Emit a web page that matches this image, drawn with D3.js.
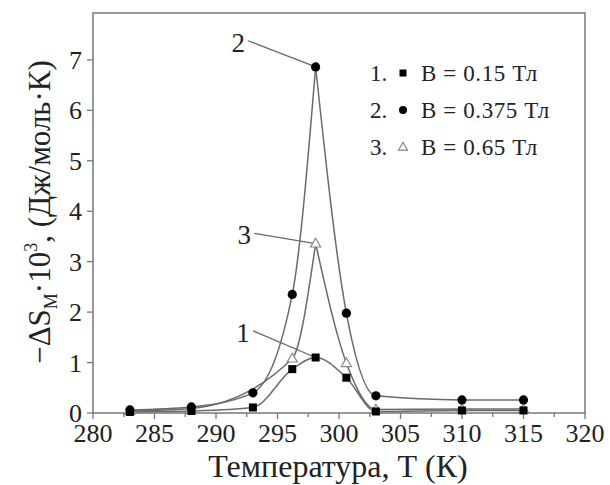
<!DOCTYPE html>
<html>
<head>
<meta charset="utf-8">
<script src="https://cdn.jsdelivr.net/npm/d3@7"></script>
<style>
  body { margin: 0; background: #fff; }
  svg text { font-family: "Liberation Serif", "Times New Roman", serif; fill: #222; }
</style>
</head>
<body>
<svg id="chart" width="610" height="485"></svg>
<script>
// temperatures (K) and -dS_M * 10^3 for the three fields
var temps = [283, 288, 293, 296.2, 298.1, 300.6, 303, 310, 315]
var s1 = [0.02, 0.04, 0.11, 0.87, 1.10, 0.70, 0.03, 0.05, 0.05]
var s2 = [0.06, 0.12, 0.40, 2.35, 6.86, 1.98, 0.34, 0.26, 0.26]
var s3 = [0.04, 0.09, null, 1.08, 3.36, 0.99, 0.07, 0.08, 0.08]

var legendLabels = ["B = 0.15 Тл", "B = 0.375 Тл", "B = 0.65 Тл"]
var xTicks = [280, 285, 290, 295, 300, 305, 310, 315, 320]
var yTicks = [0, 1, 2, 3, 4, 5, 6, 7]

// curve labels: [label, label T, label value, point index, series]
var callouts = [["1", 292.2, 1.59, 4, s1], ["2", 291.8, 7.34, 4, s2], ["3", 292.3, 3.52, 4, s3]]

var plotL = 93, plotR = 585, plotT = 13, plotB = 413
var svg = d3.select("#chart")

var x = d3.scaleLinear().domain([280, 320]).range([plotL, plotR])
var y = d3.scaleLinear().domain([0, 7.93]).range([plotB, plotT])

var grey = "#6a6a6a"

function points(vals) {
  return temps.map(function(t, i) { return { t: t, v: vals[i] } })
    .filter(function(d) { return d.v != null })
}

var line = d3.line()
  .x(function(d) { return x(d.t) })
  .y(function(d) { return y(d.v) })
  .curve(d3.curveMonotoneX)

// series 1 is rounded at the top, 2 and 3 peak sharply
function drawCurve(vals, split) {
  var pts = points(vals)
  var parts = [pts]
  if (split) {
    var k = pts.findIndex(function(d) { return d.t == temps[4] })
    parts = [pts.slice(0, k + 1), pts.slice(k)]
  }
  parts.forEach(function(p) {
    svg.append("path")
      .attr("d", line(p))
      .attr("fill", "none")
      .attr("stroke", grey)
      .attr("stroke-width", 1.5)
  })
}

drawCurve(s1, false)
drawCurve(s3, true)
drawCurve(s2, true)

// frame
svg.append("rect")
  .attr("x", plotL).attr("y", plotT)
  .attr("width", plotR - plotL).attr("height", plotB - plotT)
  .attr("fill", "none").attr("stroke", "#777").attr("stroke-width", 1.5)

// x axis ticks, majors and minors pointing down
var xMinor = d3.range(280, 320.1, 2.5)
svg.selectAll(".xtick")
  .data(xMinor)
  .enter().append("line")
  .attr("x1", function(d) { return x(d) })
  .attr("x2", function(d) { return x(d) })
  .attr("y1", plotB)
  .attr("y2", function(d) { return d % 5 == 0 ? plotB + 6 : plotB + 4 })
  .attr("stroke", "#777").attr("stroke-width", 1.3)

svg.selectAll(".xlab")
  .data(xTicks)
  .enter().append("text")
  .attr("x", function(d) { return x(d) })
  .attr("y", 442)
  .attr("text-anchor", "middle")
  .attr("font-size", 26)
  .text(function(d) { return d })

svg.selectAll(".ytick")
  .data(yTicks)
  .enter().append("line")
  .attr("x1", plotL - 6).attr("x2", plotL)
  .attr("y1", function(d) { return y(d) })
  .attr("y2", function(d) { return y(d) })
  .attr("stroke", "#777").attr("stroke-width", 1.3)

svg.selectAll(".ylab")
  .data(yTicks)
  .enter().append("text")
  .attr("x", 82)
  .attr("y", function(d) { return y(d) + 9 })
  .attr("text-anchor", "end")
  .attr("font-size", 26)
  .text(function(d) { return d })

// axis titles
svg.append("text")
  .attr("x", 338).attr("y", 477)
  .attr("text-anchor", "middle")
  .attr("font-size", 32)
  .text("Температура, Т (К)")

var yt = svg.append("text")
  .attr("transform", "translate(50,212) rotate(-90)")
  .attr("text-anchor", "middle")
  .attr("font-size", 31)
yt.append("tspan").text("−ΔS")
yt.append("tspan").attr("font-size", 18).attr("dy", 7).text("М")
yt.append("tspan").attr("dy", -7).text("·10")
yt.append("tspan").attr("font-size", 18).attr("dy", -13).text("3")
yt.append("tspan").attr("dy", 13).text(",  (Дж/моль·К)")

// callout labels with leader lines
callouts.forEach(function(c) {
  var px = x(temps[c[3]]), py = y(c[4][c[3]])
  var lx = x(c[1]), ly = y(c[2])
  svg.append("line")
    .attr("x1", lx + 10).attr("y1", ly - 2)
    .attr("x2", px).attr("y2", py)
    .attr("stroke", grey).attr("stroke-width", 1.3)
  svg.append("text")
    .attr("x", lx).attr("y", ly + 9)
    .attr("text-anchor", "middle")
    .attr("font-size", 27)
    .text(c[0])
})

// markers
function square(g, cx, cy, s) {
  g.append("rect").attr("x", cx - s / 2).attr("y", cy - s / 2)
    .attr("width", s).attr("height", s).attr("fill", "#000")
}
function dot(g, cx, cy, r) {
  g.append("circle").attr("cx", cx).attr("cy", cy).attr("r", r).attr("fill", "#000")
}
function tri(g, cx, cy, s) {
  var h = s * 0.87
  g.append("path")
    .attr("d", "M" + cx + "," + (cy - h * 0.6) + "L" + (cx + s / 2) + "," + (cy + h * 0.4) +
      "L" + (cx - s / 2) + "," + (cy + h * 0.4) + "Z")
    .attr("fill", "#fff").attr("stroke", "#888").attr("stroke-width", 1.2)
}

points(s3).forEach(function(d) { tri(svg, x(d.t), y(d.v), 10) })
points(s1).forEach(function(d) { square(svg, x(d.t), y(d.v), 8) })
points(s2).forEach(function(d) { dot(svg, x(d.t), y(d.v), 4.6) })

// legend
var legY = [73, 110, 147]
var makers = [
  function(g, cx, cy) { square(g, cx, cy, 7) },
  function(g, cx, cy) { dot(g, cx, cy, 4) },
  function(g, cx, cy) { tri(g, cx, cy, 9) }
]
legendLabels.forEach(function(lab, i) {
  svg.append("text").attr("x", 370).attr("y", legY[i] + 8)
    .attr("font-size", 23).text((i + 1) + ".")
  makers[i](svg, 403, legY[i])
  svg.append("text").attr("x", 421).attr("y", legY[i] + 8)
    .attr("font-size", 23).attr("letter-spacing", 0.6).text(lab)
})
</script>
</body>
</html>
